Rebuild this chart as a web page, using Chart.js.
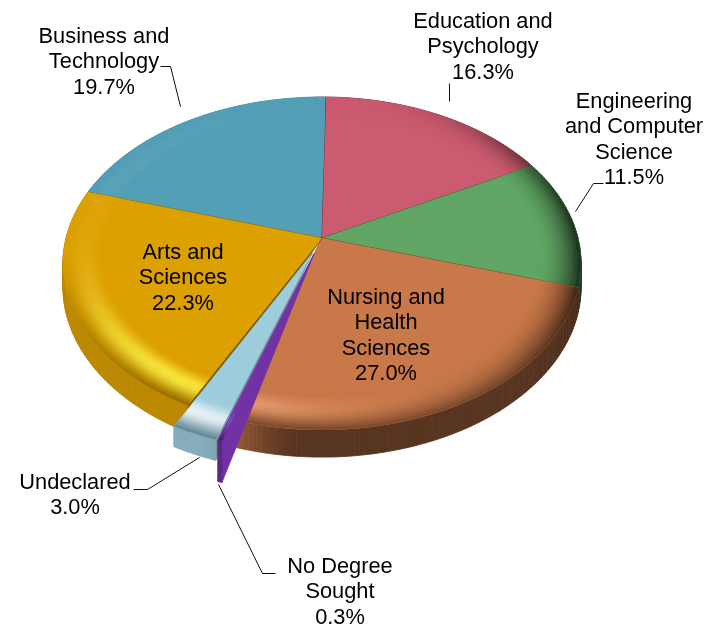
<!DOCTYPE html>
<html><head><meta charset="utf-8">
<style>html,body{margin:0;padding:0;background:#fff}canvas{display:block}</style>
<script src="https://cdn.jsdelivr.net/npm/chart.js@4"></script>
</head><body><canvas id="c" width="712" height="628"></canvas>
<script>
const categories = [
  ['Education and','Psychology'],
  ['Engineering','and Computer','Science'],
  ['Nursing and','Health','Sciences'],
  ['No Degree','Sought'],
  ['Undeclared'],
  ['Arts and','Sciences'],
  ['Business and','Technology']
];
const values = [16.3, 11.5, 27.0, 0.3, 3.0, 22.3, 19.7];
const colors = ['#CB5B70','#60A563','#C87849','#7433A8','#9DCCDD','#DCA000','#539FB6'];
const highlights = ['#E07088','#70B574','#F7A87C','#8A48C8','#F6FDFF','#FFF03C','#6CBAD2'];
const explode = [0,0,0,30,30,0,0];
const wallScale = [1,1,1,1.5,0.75,1,1];
const drawOrder = [6,0,1,5,2,4,3];

const labelCenters = [[483,28],[634,108],[386,304],[340,573],[75,489],[183,259],[104,43]];
const leaders = [
  [[449,83],[449,101]],
  [[603,183],[593,183],[575,211]],
  null,
  [[275,573],[262,573],[218,484]],
  [[133,489],[147,489],[199,457]],
  null,
  [[160,66],[170,66],[180,106]]
];
const FONT = '21.8px "Liberation Sans", Arial, sans-serif';
const LINE = 25.3;

// projection of the pie plane
const CX = 322, CY = 238, RX = 256, RY = 162.6, K = 0.153, DEPTH = 23;
const R0 = 0.84;
const warpTable = [[0,-2],[62,0],[103,4],[150,1],[197,-2],[209,-5],[292,-5],[360,-2]];

const hex = h => [1,3,5].map(i => parseInt(h.substr(i,2),16));
const mix = (a,b,t) => a.map((x,i) => x+(b[i]-x)*t);
const css = c => `rgb(${c.map(x=>Math.round(Math.max(0,Math.min(255,x)))).join(',')})`;
const clamp = x => Math.max(0,Math.min(1,x));
const smooth = (a,b,x) => { const t=clamp((x-a)/(b-a)); return t*t*(3-2*t); };
const DEG = Math.PI/180;
const toTh = a => ((a/DEG+90)%360+360)%360;

function warp(a){
  const th = toTh(a);
  for(let i=0;i<warpTable.length-1;i++){
    const [t0,f0]=warpTable[i],[t1,f1]=warpTable[i+1];
    if(th>=t0 && th<=t1) return a+(f0+(f1-f0)*(th-t0)/(t1-t0))*DEG;
  }
  return a;
}
function project(r,a,dx,dy){
  const b = warp(a);
  const u = r*Math.cos(b)+dx, v = r*Math.sin(b)+dy, w = 1-K*v;
  return [CX+RX*u/w, CY+RY*v/w, w];
}

function shade(base,hi,th,t){
  const d = Math.cos((th-215)*DEG);
  let c = base;
  const bump = Math.sin(Math.PI*clamp(t/0.98));
  const hl = Math.pow(Math.max(0,d),5)*bump*bump*0.95;
  c = mix(c,hi,clamp(hl));
  const left = Math.max(0,-Math.sin(th*DEG))*bump*bump*0.05;
  c = mix(c,[255,255,255],left);
  const s = Math.max(0,Math.sin(th*DEG));
  const dk = t*t*s*s*s*0.72;
  c = mix(c,[0,0,0],clamp(dk));
  const bt = Math.max(0,-Math.cos(th*DEG));
  c = mix(c,[0,0,0],Math.pow(t,3)*0.4*bt);
  return c;
}
function wallBright(th){
  return 0.38+0.06*smooth(105,135,th)+0.41*smooth(185,205,th);
}

const pie3d = {
  id:'pie3d',
  beforeDatasetsDraw(chart){
    const ctx = chart.ctx, arcs = chart.getDatasetMeta(0).data;
    ctx.save();
    drawOrder.forEach(i => {
      const el = arcs[i], R = el.outerRadius;
      const a0 = el.startAngle, a1 = el.endAngle, m = warp((a0+a1)/2);
      const off = (el.options.offset||0)/R;
      const dx = off*Math.cos(m), dy = off*Math.sin(m);
      const base = hex(colors[i]), hi = hex(highlights[i]);
      const n = Math.max(2,Math.ceil((a1-a0)/DEG));
      const ang = j => a0+(a1-a0)*j/n;
      const drop = (p,f=1) => [p[0],p[1]+f*DEPTH*wallScale[i]/p[2]];
      const poly = (pts,fill) => {
        ctx.beginPath();
        pts.forEach((p,j)=> j?ctx.lineTo(p[0],p[1]):ctx.moveTo(p[0],p[1]));
        ctx.closePath();
        ctx.fillStyle=fill; ctx.strokeStyle=fill; ctx.lineWidth=0.8;
        ctx.fill(); ctx.stroke();
      };
      const apex = project(0,0,dx,dy);
      [a0,a1].forEach(a=>{
        const o = project(1,a,dx,dy);
        poly([apex,o,drop(o)], css(mix(base,[0,0,0],i===3?0.02:(i===4?0.28:0.42))));
      });
      for(let j=0;j<n;j++){
        const p=project(1,ang(j),dx,dy), q=project(1,ang(j+1),dx,dy);
        poly([p,q,drop(q),drop(p)], css(mix([0,0,0],base,wallBright(toTh(ang(j))))));
      }
      const path = new Path2D();
      path.moveTo(apex[0],apex[1]);
      for(let j=0;j<=n;j++){ const p=project(1,ang(j),dx,dy); path.lineTo(p[0],p[1]); }
      path.closePath();
      ctx.fillStyle=colors[i];
      ctx.fill(path);
      ctx.save();
      ctx.clip(path);
      const STEPS=14;
      for(let j=0;j<n;j++){
        const th=toTh(ang(j)+(a1-a0)/(2*n));
        for(let s=0;s<STEPS;s++){
          const r1=R0+(1-R0)*s/STEPS, r2=R0+(1-R0)*(s+1)/STEPS;
          const col=css(shade(base,hi,th,(s+0.5)/STEPS));
          poly([project(r1,ang(j),dx,dy),project(r1,ang(j+1),dx,dy),project(r2,ang(j+1),dx,dy),project(r2,ang(j),dx,dy)],col);
        }
      }
      ctx.restore();
    });
    ctx.restore();
    return false;
  },
  afterDraw(chart){
    const ctx = chart.ctx;
    ctx.save();
    ctx.strokeStyle='#111'; ctx.lineWidth=1;
    leaders.forEach(l=>{
      if(!l) return;
      ctx.beginPath();
      l.forEach((p,j)=> j?ctx.lineTo(p[0]+0.5,p[1]+0.5):ctx.moveTo(p[0]+0.5,p[1]+0.5));
      ctx.stroke();
    });
    ctx.fillStyle='#000'; ctx.font=FONT; ctx.textAlign='center'; ctx.textBaseline='alphabetic';
    categories.forEach((lines,i)=>{
      const all=[...lines, values[i].toFixed(1)+'%'];
      const [x,y]=labelCenters[i];
      all.forEach((t,j)=>ctx.fillText(t,x,y+j*LINE));
    });
    ctx.restore();
  }
};

new Chart(document.getElementById('c'),{
  type:'pie',
  data:{labels:categories.map(l=>l.join(' ')),datasets:[{data:values,backgroundColor:colors,offset:explode,borderWidth:0}]},
  options:{responsive:false,animation:false,rotation:3,
    plugins:{legend:{display:false},tooltip:{enabled:false}}},
  plugins:[pie3d]
});
</script></body></html>
